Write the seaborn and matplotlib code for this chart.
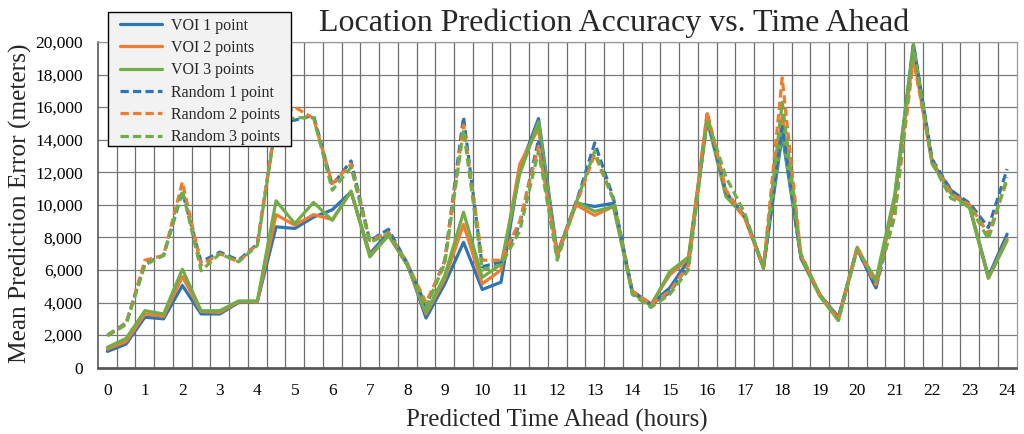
import numpy as np
import pandas as pd
import matplotlib
matplotlib.use('Agg')
import matplotlib.pyplot as plt
import seaborn as sns
from matplotlib.patches import Rectangle
from matplotlib.ticker import FuncFormatter, MultipleLocator

# predicted time ahead (hours), one category every half hour
hours = np.arange(0, 24.5, 0.5)

voi_1 = [1000, 1450, 3100, 3000, 5050, 3300, 3300, 4000, 4050, 8650,
         8550, 9250, 9700, 10800, 7000, 8300, 6400, 3050, 5150, 7700,
         4800, 5250, 12200, 15300, 7000, 10100, 9900, 10100, 4700, 3900,
         4900, 6600, 15300, 10700, 9300, 6200, 14300, 6800, 4500, 3100,
         7300, 4900, 10400, 19800, 12600, 10900, 9900, 5600, 8200]
voi_2 = [1150, 1600, 3300, 3150, 5600, 3450, 3400, 4050, 4050, 9400,
         8750, 9400, 9100, 10800, 6900, 8100, 6300, 3300, 5450, 8800,
         5150, 6000, 12500, 14700, 6900, 10000, 9350, 9900, 4700, 3900,
         5700, 6700, 15600, 10600, 9200, 6200, 15500, 6800, 4500, 3000,
         7400, 5100, 10300, 19200, 12500, 10800, 9900, 5500, 7900]
voi_3 = [1250, 1800, 3500, 3300, 6050, 3500, 3500, 4100, 4100, 10250,
         8850, 10150, 9050, 10850, 6800, 8150, 6300, 3400, 5650, 9550,
         5550, 6350, 11900, 15100, 6800, 10200, 9600, 9900, 4600, 3800,
         5900, 6800, 15200, 10500, 9300, 6200, 14600, 6700, 4400, 2900,
         7300, 5400, 10600, 19900, 12600, 10700, 9800, 5500, 7800]
rand_1 = [2000, 2750, 6400, 6900, 10800, 6500, 7100, 6600, 7600, 15100,
          15200, 15500, 11200, 12700, 7800, 8500, 6400, 3800, 6600, 15400,
          6200, 6500, 8800, 14000, 7000, 10100, 13800, 10400, 4700, 3900,
          4600, 6300, 15300, 10800, 9300, 6100, 14800, 6800, 4500, 3100,
          7300, 4900, 9400, 19800, 12800, 10900, 10100, 8600, 12200]
rand_2 = [2000, 2700, 6600, 6900, 11400, 6300, 7000, 6500, 7600, 15200,
          16000, 15300, 11300, 12500, 7800, 8300, 6400, 4000, 6500, 14900,
          6600, 6600, 9000, 13600, 7000, 10000, 13100, 10300, 4700, 3900,
          4700, 6300, 15700, 10900, 9200, 6100, 17800, 6900, 4500, 3000,
          7400, 5100, 9300, 18900, 12700, 10700, 10000, 8200, 11500]
rand_3 = [1950, 2650, 6300, 6900, 10900, 5950, 7000, 6500, 7500, 15000,
          15350, 15350, 10900, 12300, 7700, 8200, 6300, 3700, 6400, 14600,
          6000, 6300, 8400, 13300, 6600, 10100, 13300, 10300, 4500, 3700,
          4500, 6000, 15300, 11700, 9500, 6100, 16300, 7000, 4500, 2900,
          7300, 5300, 9300, 19700, 12600, 10400, 9900, 7900, 11700]

labels = ['VOI 1 point', 'VOI 2 points', 'VOI 3 points',
          'Random 1 point', 'Random 2 points', 'Random 3 points']
series = [voi_1, voi_2, voi_3, rand_1, rand_2, rand_3]

blue, orange, green = '#2E75B6', '#ED7D31', '#70AD47'
colors = [blue, orange, green, blue, orange, green]
dash = (0, (2.6, 1.3))
styles = ['-', '-', '-', dash, dash, dash]

sns.set_style('white')
plt.rcParams['font.family'] = ['Liberation Serif', 'DejaVu Serif']

fig = plt.figure(figsize=(10.24, 4.34), dpi=100)
ax = fig.add_axes([98 / 1024, 1 - 367.7 / 434, (1016.5 - 98) / 1024, (367.7 - 42) / 434])

for vals, lab, col, ls in zip(series, labels, colors, styles):
    df = pd.DataFrame({'hours': hours, 'error': vals})
    sns.lineplot(data=df, x='hours', y='error', ax=ax, color=col,
                 linestyle=ls, linewidth=2.3, label=lab)

ax.set_xlim(-0.25, 24.25)
ax.set_ylim(0, 20000)
ax.xaxis.set_major_locator(MultipleLocator(1))
ax.yaxis.set_major_locator(MultipleLocator(2000))
ax.yaxis.set_major_formatter(FuncFormatter(lambda v, p: f'{int(v):,}'))

ax.grid(False)
for xv in np.arange(0.25, 24.25, 0.5):
    ax.axvline(xv, color='#6e6e6e', linewidth=0.9, zorder=0)
for yv in range(2000, 20001, 2000):
    ax.axhline(yv, color='#7a7a7a', linewidth=0.9, zorder=0)

for side in ['top', 'right']:
    ax.spines[side].set_color('#9a9a9a')
    ax.spines[side].set_linewidth(0.9)
ax.spines['left'].set_color('#595959')
ax.spines['left'].set_linewidth(1.2)
ax.spines['bottom'].set_color('#595959')
ax.spines['bottom'].set_linewidth(2.0)

ax.tick_params(axis='both', length=0, labelsize=12.5, pad=11, colors='black')
ax.set_xlabel('Predicted Time Ahead (hours)', fontsize=18, labelpad=7)
ax.set_ylabel('')
fig.text(20 / 1024, 1 - 203 / 434, 'Mean Prediction Error (meters)',
         fontsize=18.3, rotation=90, ha='center', va='center')

fig.text(614 / 1024, 1 - 31 / 434, 'Location Prediction Accuracy vs. Time Ahead',
         fontsize=23, ha='center', va='baseline')

# legend box (wider side padding than matplotlib's frame allows)
box = Rectangle((108 / 1024, 1 - 146 / 434), 183 / 1024, 134 / 434,
                transform=fig.transFigure, facecolor='#f2f2f2',
                edgecolor='black', linewidth=1.0, clip_on=False, zorder=9)
ax.add_patch(box)
leg = ax.legend(loc='upper left', bbox_to_anchor=(120 / 1024, 1 - 17.5 / 434),
                bbox_transform=fig.transFigure, borderaxespad=0, frameon=False,
                fontsize=11.5, handlelength=2.6, handletextpad=0.6,
                labelspacing=0.4, borderpad=0)
leg.set_zorder(10)

fig.savefig('out.png', dpi=100)
